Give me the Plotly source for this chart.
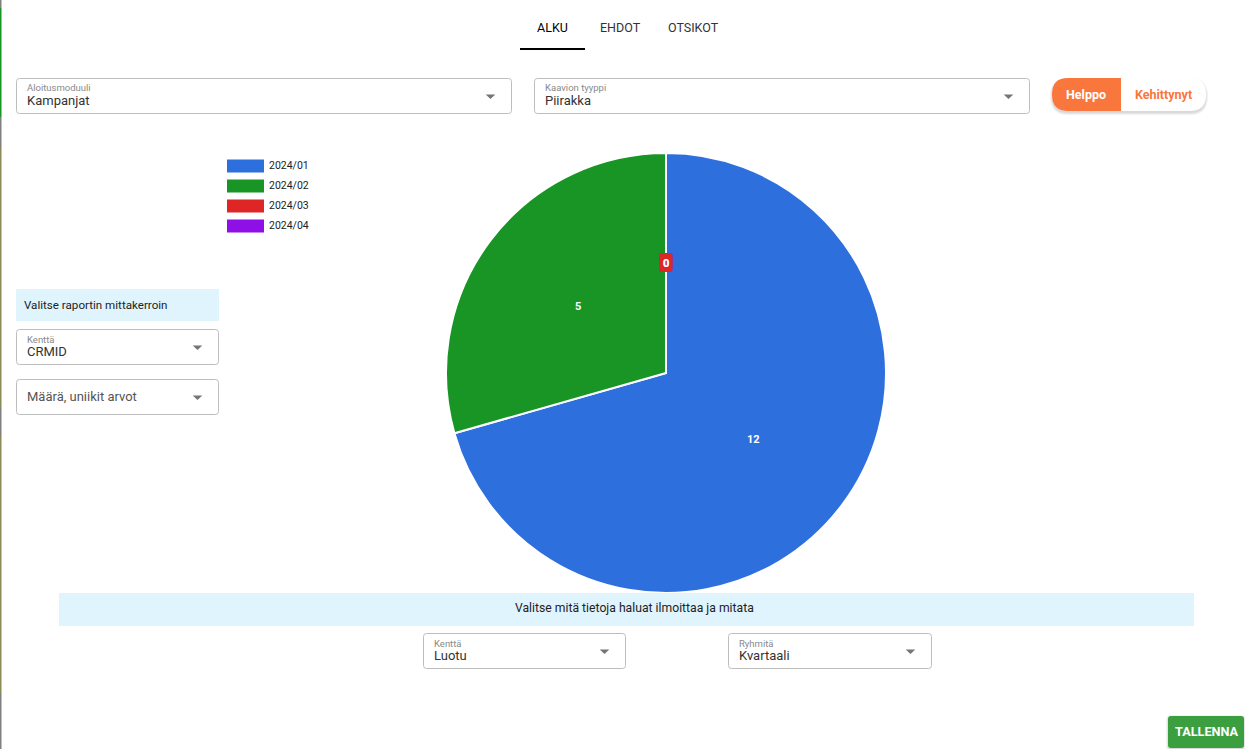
import plotly.graph_objects as go
import numpy as np

W, H = 1245, 749

# chart data
periods = ["2024/01", "2024/02", "2024/03", "2024/04"]
counts = [12, 5, 0, 0]
slice_colors = ["#2E6FDE", "#189525", "#DE2626", "#8E10E6"]

# pie placement in page pixels
pie_left, pie_right, pie_top, pie_bottom = 446, 886, 153, 593

# the form around the chart
tabs = [("ALKU", 552.5, "#000000"), ("EHDOT", 620, "#333333"), ("OTSIKOT", 693.5, "#333333")]
selects = [
    (16, 512, 78, 114, "Aloitusmoduuli", "Kampanjat"),
    (534, 1030, 78, 114, "Kaavion tyyppi", "Piirakka"),
    (16, 219, 329, 365, "Kenttä", "CRMID"),
    (16, 219, 379, 415, "", "Määrä, uniikit arvot"),
    (423, 626, 633, 669, "Kenttä", "Luotu"),
    (728, 932, 633, 669, "Ryhmitä", "Kvartaali"),
]
edge_strip = [(0, 8, "#808080"), (8, 117, "#189525"), (117, 148, "#808080"), (148, 407, "#8B8B55"),
              (407, 436, "#808080"), (436, 694, "#8B8B55"), (694, 749, "#808080")]
banner_color = "#E0F4FD"
orange = "#F9763D"


def px(x):
    return x / W


def py(y):
    return 1 - y / H


def rect(x0, x1, y0, y1, fill):
    return dict(type="rect", xref="paper", yref="paper", x0=px(x0), x1=px(x1), y0=py(y0), y1=py(y1),
                fillcolor=fill, line=dict(width=0))


def round_path(x0, x1, y0, y1, r, fill, line=None, lw=1, opacity=1):
    d = (f"M{px(x0 + r)},{py(y0)} L{px(x1 - r)},{py(y0)} Q{px(x1)},{py(y0)} {px(x1)},{py(y0 + r)} "
         f"L{px(x1)},{py(y1 - r)} Q{px(x1)},{py(y1)} {px(x1 - r)},{py(y1)} "
         f"L{px(x0 + r)},{py(y1)} Q{px(x0)},{py(y1)} {px(x0)},{py(y1 - r)} "
         f"L{px(x0)},{py(y0 + r)} Q{px(x0)},{py(y0)} {px(x0 + r)},{py(y0)} Z")
    return dict(type="path", xref="paper", yref="paper", path=d, fillcolor=fill, opacity=opacity,
                line=dict(color=line, width=lw if line else 0))


def soft_shadow(x0, x1, y0, y1, r, drop=2):
    # a few widening pills stand in for the css box shadow
    return [round_path(x0 - s, x1 + s, y0 + drop - s, y1 + drop + s, r + s, "#000000", opacity=0.05)
            for s in (2, 1, 0)]


def text(x, y, s, size=12, color="#333333", anchor="left", weight=400):
    # annotations pad their box by 2px, take that back on left aligned text
    if anchor == "left":
        x -= 2
    return dict(xref="paper", yref="paper", x=px(x), y=py(y), text=s, showarrow=False, xanchor=anchor,
                yanchor="middle", font=dict(size=size, color=color, family="Roboto", weight=weight))


fig = go.Figure(go.Pie(
    labels=periods,
    values=counts,
    sort=False,
    direction="clockwise",
    rotation=0,
    textinfo="none",
    hoverinfo="label+value",
    showlegend=False,
    marker=dict(colors=slice_colors, line=dict(color="#FFFFFF", width=2)),
    domain=dict(x=[px(pie_left), px(pie_right)], y=[py(pie_bottom), py(pie_top)]),
))

shapes = []
annotations = []

# page edge strip
for y0, y1, col in edge_strip:
    shapes.append(rect(0, 1.5, y0, y1, col))

# tabs
for name, cx, col in tabs:
    annotations.append(text(cx, 27.5, name, 12.5, col, "center", 400))
shapes.append(rect(520, 585, 48, 50, "#000000"))

# selects
for x0, x1, y0, y1, label, value in selects:
    shapes.append(round_path(x0 + 0.5, x1 - 0.5, y0 + 0.5, y1 - 0.5, 3, "#FFFFFF", "#BDBDBD", 1))
    if label:
        annotations.append(text(x0 + 11, y0 + 10, label, 9.5, "#8A8A8A"))
        annotations.append(text(x0 + 11, y0 + 22.5, value, 13, "#333333"))
    else:
        annotations.append(text(x0 + 11, y0 + 17, value, 13, "#555555"))
    ax = x1 - 21.5
    ay = y0 + 16.5
    tri = f"M{px(ax - 4.75)},{py(ay)} L{px(ax + 4.75)},{py(ay)} L{px(ax)},{py(ay + 4.5)} Z"
    shapes.append(dict(type="path", xref="paper", yref="paper", path=tri, fillcolor="#757575", line=dict(width=0)))

# easy / advanced toggle
shapes.extend(soft_shadow(1052, 1206, 78, 111, 16))
shapes.append(round_path(1052, 1206, 78, 111, 16, "#FFFFFF"))
shapes.append(round_path(1052, 1090, 78, 111, 16, orange))
shapes.append(rect(1072, 1121, 78, 111, orange))
annotations.append(text(1086, 95, "Helppo", 12.5, "#FFFFFF", "center", 700))
annotations.append(text(1163.5, 95, "Kehittynyt", 12.5, orange, "center", 700))

# legend
for i, (name, col) in enumerate(zip(periods, slice_colors)):
    yc = 166 + 20 * i
    shapes.append(rect(227, 264, yc - 6.5, yc + 6.5, col))
    annotations.append(text(269, yc - 0.5, name, 10.5, "#222222"))

# banners
shapes.append(rect(16, 219, 289, 321, banner_color))
annotations.append(text(24, 304.5, "Valitse raportin mittakerroin", 11.6, "#222222"))
shapes.append(rect(59, 1194, 593, 626, banner_color))
annotations.append(text(634, 608, "Valitse mitä tietoja haluat ilmoittaa ja mitata", 12.2, "#222222", "center"))

# save button
shapes.extend(soft_shadow(1168, 1244, 716, 748, 3, drop=1))
shapes.append(round_path(1168, 1244, 716, 748, 3, "#3C9F3F"))
annotations.append(text(1206.5, 731.5, "TALLENNA", 12.7, "#FFFFFF", "center", 700))

# value labels sit halfway along each slice's middle angle
cx = (pie_left + pie_right) / 2
cy = (pie_top + pie_bottom) / 2
rad = (pie_right - pie_left) / 2
total = sum(counts)
angle = 0
label_rows = []
for val, col in zip(counts, slice_colors):
    mid = angle + val / total * 360 / 2
    angle += val / total * 360
    lx = cx + rad * 0.5 * np.sin(np.radians(mid))
    ly = cy - rad * 0.5 * np.cos(np.radians(mid))
    label_rows.append((val, col, lx, ly))
for val, col, lx, ly in label_rows[::-1]:
    if val == 0:
        shapes.append(round_path(lx - 6.5, lx + 6.5, ly - 10, ly + 9, 3, col))
    annotations.append(text(lx, ly, str(val), 11, "#FFFFFF", "center", 700))

fig.update_layout(
    width=W,
    height=H,
    margin=dict(l=0, r=0, t=0, b=0),
    paper_bgcolor="#FFFFFF",
    plot_bgcolor="#FFFFFF",
    shapes=shapes,
    annotations=annotations,
    showlegend=False,
)

fig.write_html(
    "out.html",
    config={"displayModeBar": False},
    post_script="document.body.style.margin='0';document.body.style.overflow='hidden';",
)
